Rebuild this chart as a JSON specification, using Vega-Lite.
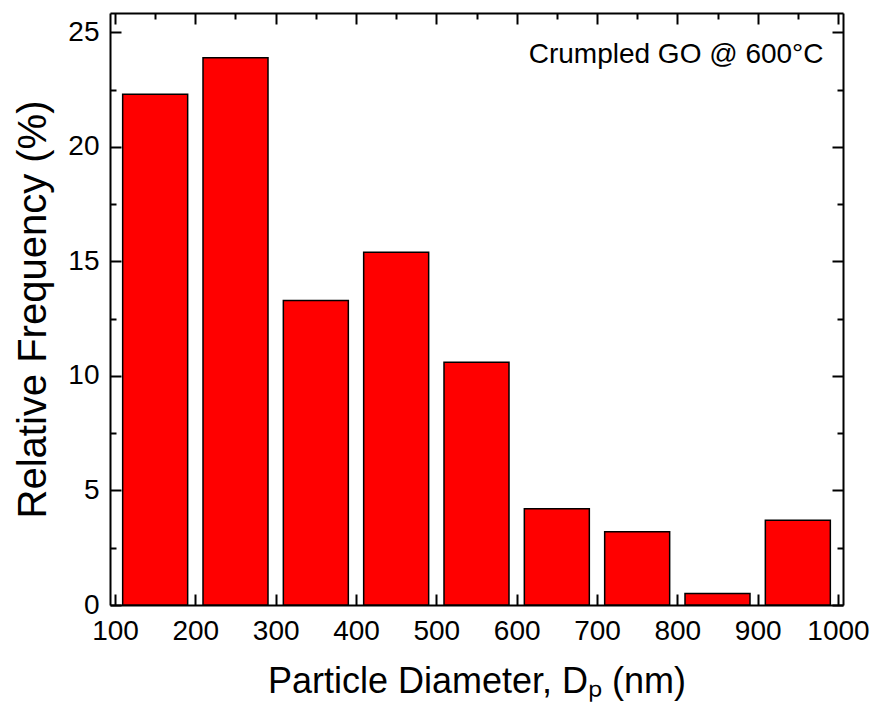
{
  "$schema": "https://vega.github.io/schema/vega-lite/v6.json",
  "autosize": {"type": "none"},
  "width": 733,
  "height": 592,
  "padding": {"left": 110, "top": 13, "right": 37, "bottom": 106},
  "background": "white",
  "config": {
    "view": {"stroke": null},
    "font": "Liberation Sans",
    "axis": {
      "labelFont": "Liberation Sans",
      "titleFont": "Liberation Sans",
      "labelFontSize": 28,
      "titleFontSize": 36,
      "titleFontWeight": "normal",
      "labelColor": "black",
      "titleColor": "black",
      "domainColor": "black",
      "domainWidth": 2,
      "tickColor": "black",
      "tickWidth": 2,
      "grid": false,
      "zindex": 1
    }
  },
  "datasets": {
    "histogram": [
      {"diameter": 150, "frequency": 22.3},
      {"diameter": 250, "frequency": 23.9},
      {"diameter": 350, "frequency": 13.3},
      {"diameter": 450, "frequency": 15.4},
      {"diameter": 550, "frequency": 10.6},
      {"diameter": 650, "frequency": 4.2},
      {"diameter": 750, "frequency": 3.2},
      {"diameter": 850, "frequency": 0.5},
      {"diameter": 950, "frequency": 3.7}
    ],
    "note": [
      {"diameter": 982, "frequency": 24.0, "text": "Crumpled GO @ 600°C"}
    ]
  },
  "layer": [
    {
      "data": {"name": "histogram"},
      "mark": {"type": "bar", "width": 65, "fill": "#ff0000", "stroke": "black", "strokeWidth": 1.5},
      "encoding": {
        "x": {
          "field": "diameter",
          "type": "quantitative",
          "scale": {"domain": [100, 1000], "nice": false, "zero": false},
          "axis": {
            "orient": "bottom",
            "values": [100, 150, 200, 250, 300, 350, 400, 450, 500, 550, 600, 650, 700, 750, 800, 850, 900, 950, 1000],
            "format": "d",
            "labelExpr": "datum.value % 100 === 0 ? datum.label : ''",
            "tickSize": {"condition": {"test": "datum.value % 100 !== 0", "value": -6}, "value": -11},
            "labelPadding": 23,
            "labelFlush": false,
            "title": "Particle Diameter, Dₚ (nm)",
            "titlePadding": 19
          }
        },
        "y": {
          "field": "frequency",
          "type": "quantitative",
          "scale": {"domain": [0, 25.85], "nice": false, "zero": true},
          "axis": {
            "orient": "left",
            "values": [0, 2.5, 5, 7.5, 10, 12.5, 15, 17.5, 20, 22.5, 25],
            "labelExpr": "datum.value % 5 === 0 ? datum.label : ''",
            "tickSize": {"condition": {"test": "datum.value % 5 !== 0", "value": -6}, "value": -11},
            "labelPadding": 22,
            "labelFlush": false,
            "title": "Relative Frequency (%)",
            "titleFontSize": 40,
            "titlePadding": 14
          }
        }
      }
    },
    {
      "data": {"name": "note"},
      "mark": {"type": "text", "align": "right", "baseline": "middle", "fontSize": 28, "font": "Liberation Sans", "color": "black"},
      "encoding": {
        "text": {"field": "text"},
        "x": {
          "field": "diameter",
          "type": "quantitative",
          "axis": {
            "orient": "top",
            "values": [100, 150, 200, 250, 300, 350, 400, 450, 500, 550, 600, 650, 700, 750, 800, 850, 900, 950, 1000],
            "labels": false,
            "title": null,
            "tickSize": {"condition": {"test": "datum.value % 100 !== 0", "value": -6}, "value": -11}
          }
        },
        "y": {
          "field": "frequency",
          "type": "quantitative",
          "axis": {
            "orient": "right",
            "values": [0, 2.5, 5, 7.5, 10, 12.5, 15, 17.5, 20, 22.5, 25],
            "labels": false,
            "title": null,
            "tickSize": {"condition": {"test": "datum.value % 5 !== 0", "value": -6}, "value": -11}
          }
        }
      }
    }
  ],
  "resolve": {"axis": {"x": "independent", "y": "independent"}}
}
